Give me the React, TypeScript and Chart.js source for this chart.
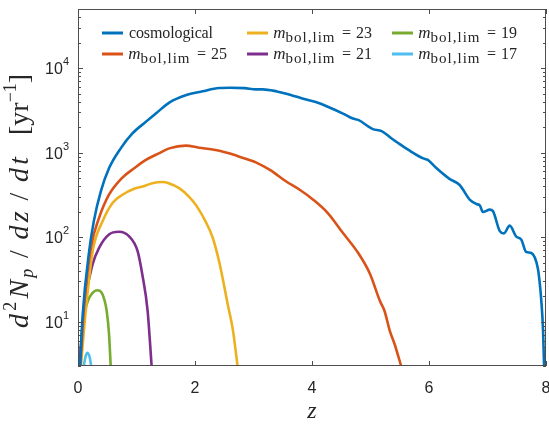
import React, { useEffect, useRef } from 'react';
import { Chart, registerables } from 'chart.js';
Chart.register(...registerables);

// ---- data ----
const cosmoZ = [0.03, 0.08, 0.19, 0.27, 0.39, 0.53, 0.73, 0.93, 1.16, 1.33, 1.56, 1.84, 2.13, 2.41, 2.6, 2.85, 3.04, 3.16, 3.4, 3.56, 3.9, 4.1, 4.25, 4.53, 4.7, 4.79, 5.04, 5.19, 5.36, 5.44, 5.67, 5.9, 5.98, 6.13, 6.35, 6.52, 6.7, 6.81, 6.87, 6.92, 7.04, 7.09, 7.21, 7.28, 7.38, 7.49, 7.58, 7.66, 7.75, 7.86, 7.89, 7.92, 7.95, 7.97];
const cosmoN = [2.5, 12, 68, 154, 348, 653, 1124, 1687, 2316, 2900, 3910, 4775, 5320, 5820, 5860, 5800, 5610, 5610, 5300, 4990, 4240, 3900, 3540, 2900, 2530, 2440, 1900, 1800, 1470, 1346, 1055, 857, 820, 653, 490, 417, 277, 247, 237, 199, 212, 205, 118, 111, 137, 102, 93, 67, 65, 43, 30, 17.7, 7.8, 2.5];

const m25Z = [0.04, 0.1, 0.22, 0.36, 0.53, 0.76, 0.96, 1.16, 1.38, 1.56, 1.84, 2.07, 2.35, 2.58, 2.81, 2.93, 3.04, 3.28, 3.56, 3.79, 4.02, 4.27, 4.53, 4.79, 4.99, 5.16, 5.24, 5.33, 5.41, 5.53];
const m25N = [3, 14, 75, 169, 318, 508, 653, 820, 981, 1124, 1210, 1145, 1076, 981, 873, 820, 769, 625, 456, 364, 278, 193, 112, 65, 37, 17.7, 13.4, 7.8, 5.5, 2.9];

const m23Z = [0.05, 0.12, 0.25, 0.42, 0.59, 0.76, 0.96, 1.12, 1.27, 1.45, 1.55, 1.73, 1.9, 2.02, 2.18, 2.3, 2.42, 2.56, 2.65, 2.73];
const m23N = [3, 11, 68, 154, 254, 318, 374, 400, 436, 450, 436, 380, 300, 238, 154, 100, 49, 16, 7.8, 2.9];

const m21Z = [0.02, 0.13, 0.25, 0.36, 0.53, 0.7, 0.87, 1.02, 1.1, 1.19, 1.26];
const m21N = [3, 19, 48, 75, 108, 116, 103, 68, 36, 13.5, 2.9];

const m19Z = [0.03, 0.075, 0.16, 0.25, 0.33, 0.42, 0.49, 0.53, 0.56];
const m19N = [3, 8.6, 17, 22, 23.6, 21, 13.5, 7.2, 2.9];

const m17Z = [0.09, 0.13, 0.16, 0.2, 0.23];
const m17N = [2.8, 3.9, 4.3, 3.8, 2.8];

const seriesNames = ['cosmological', '25', '23', '21', '19', '17'];
const xTickValues = [0, 2, 4, 6, 8];
const yMajorExps = [1, 2, 3, 4];
const X_MIN = 0, X_MAX = 8, Y_MIN = 3, Y_MAX = 5e4;

const COLORS = ['#0072BD', '#D95319', '#EDB120', '#7E2F8E', '#77AC30', '#4DBEEE'];
const AX = '#4d4d4d';
const TXT = '#262626';
const SERIF = '"Liberation Serif", "Times New Roman", serif';
const SANS = '"Liberation Sans", Arial, sans-serif';

const pts = (z: number[], n: number[]) => z.map((x, i) => ({ x, y: n[i] }));

// rich text piece: text, font, baseline shift, optional target width, gap weight after it
type Part = { t: string; f: string; dy?: number; w?: number; g?: number };
function partWidth(ctx: CanvasRenderingContext2D, p: Part) {
  if (p.w !== undefined) return p.w;
  ctx.font = p.f;
  return ctx.measureText(p.t).width;
}
function richWidth(ctx: CanvasRenderingContext2D, parts: Part[]) {
  return parts.reduce((s, p) => s + partWidth(ctx, p), 0);
}
function drawRich(ctx: CanvasRenderingContext2D, parts: Part[], x: number, y: number, unit = 0) {
  let cx = x;
  for (const p of parts) {
    ctx.font = p.f;
    const mw = ctx.measureText(p.t).width;
    const yy = y + (p.dy || 0);
    if (p.w !== undefined) {
      const chars = Array.from(p.t);
      const sp = (p.w - mw) / chars.length;
      let px = cx + sp / 2;
      for (const ch of chars) {
        ctx.fillText(ch, px, yy);
        px += ctx.measureText(ch).width + sp;
      }
      cx += p.w;
    } else {
      ctx.fillText(p.t, cx, yy);
      cx += mw;
    }
    cx += unit * (p.g || 0);
  }
}
function drawFit(ctx: CanvasRenderingContext2D, parts: Part[], x: number, y: number, target: number) {
  const nat = richWidth(ctx, parts);
  const wsum = parts.reduce((s, p) => s + (p.g || 0), 0);
  const unit = wsum > 0 ? Math.max(0, (target - nat) / wsum) : 0;
  drawRich(ctx, parts, x, y, unit);
}

const decor = {
  id: 'decor',
  afterDraw(chart: any) {
    const ctx: CanvasRenderingContext2D = chart.ctx;
    const { left, right, top, bottom } = chart.chartArea;
    const xs = chart.scales.x, ys = chart.scales.y;
    ctx.save();
    ctx.strokeStyle = AX;
    ctx.lineWidth = 1;
    ctx.strokeRect(Math.round(left) + 0.5, Math.round(top) + 0.5, Math.round(right - left) - 1, Math.round(bottom - top) - 1);
    ctx.beginPath();
    for (const v of xTickValues) {
      const px = Math.round(xs.getPixelForValue(v)) + 0.5;
      ctx.moveTo(px, bottom); ctx.lineTo(px, bottom - 5);
      ctx.moveTo(px, top); ctx.lineTo(px, top + 5);
    }
    for (let e = 0; e <= 4; e++) {
      for (let m = 1; m <= 9; m++) {
        const v = m * Math.pow(10, e);
        if (v < Y_MIN || v > Y_MAX) continue;
        const py = Math.round(ys.getPixelForValue(v)) + 0.5;
        const len = m === 1 ? 5 : 3;
        ctx.moveTo(left, py); ctx.lineTo(left + len, py);
        ctx.moveTo(right, py); ctx.lineTo(right - len, py);
      }
    }
    ctx.stroke();

    // tick labels
    ctx.fillStyle = TXT;
    ctx.textBaseline = 'alphabetic';
    ctx.textAlign = 'center';
    ctx.font = `16px ${SANS}`;
    for (const v of xTickValues) {
      ctx.fillText(String(v), xs.getPixelForValue(v), 392.5);
    }
    ctx.textAlign = 'left';
    for (const e of yMajorExps) {
      const py = ys.getPixelForValue(Math.pow(10, e));
      const parts: Part[] = [
        { t: '10', f: `16px ${SANS}` },
        { t: String(e), f: `11px ${SANS}`, dy: -9 },
      ];
      const w = richWidth(ctx, parts);
      drawRich(ctx, parts, 69 - w, py + 6);
    }

    // x title
    const zParts: Part[] = [{ t: 'z', f: `italic 24px ${SERIF}` }];
    const zw = richWidth(ctx, zParts);
    drawRich(ctx, zParts, (left + right) / 2 - zw / 2, 418);

    // y title (rotated): main part spans y 328..157, units part 135..85
    const fs = 28, ss = 18;
    const it = `italic ${fs}px ${SERIF}`;
    const rm = `${fs}px ${SERIF}`;
    const mainParts: Part[] = [
      { t: 'd', f: it, g: 0.3 },
      { t: '2', f: `${ss}px ${SERIF}`, dy: -12, g: 0.3 },
      { t: 'N', f: it, g: 0.2 },
      { t: 'p', f: `italic ${ss}px ${SERIF}`, dy: 5, g: 1 },
      { t: '/', f: rm, g: 1 },
      { t: 'd', f: it, g: 0.3 },
      { t: 'z', f: it, g: 1 },
      { t: '/', f: rm, g: 1 },
      { t: 'd', f: it, g: 0.3 },
      { t: 't', f: it },
    ];
    const unitParts: Part[] = [
      { t: '[', f: rm, g: 1 },
      { t: 'yr', f: rm, g: 0.5 },
      { t: '\u22121', f: `${ss}px ${SERIF}`, dy: -12, g: 1 },
      { t: ']', f: rm },
    ];
    ctx.save();
    ctx.translate(28, 328);
    ctx.rotate(-Math.PI / 2);
    drawFit(ctx, mainParts, 0, 0, 171);
    drawFit(ctx, unitParts, 193, 0, 50);
    ctx.restore();

    // legend (column-major, 3 columns x 2 rows)
    const colX = [102, 247, 392];
    const rowY = [33, 54];
    for (let i = 0; i < seriesNames.length; i++) {
      const c = Math.floor(i / 2), r = i % 2;
      const x0 = colX[c], y0 = rowY[r];
      ctx.strokeStyle = COLORS[i];
      ctx.lineWidth = 3;
      ctx.beginPath();
      ctx.moveTo(x0, y0); ctx.lineTo(x0 + 21, y0);
      ctx.stroke();
      ctx.fillStyle = TXT;
      let parts: Part[];
      if (i === 0) {
        parts = [{ t: seriesNames[i], f: `16px ${SERIF}`, w: 84 }];
      } else {
        parts = [
          { t: 'm', f: `italic 17px ${SERIF}`, w: 11 },
          { t: 'bol,lim', f: `15px ${SERIF}`, dy: 4, w: 50 },
          { t: ' ', f: `16px ${SERIF}`, w: 6 },
          { t: '=', f: `16px ${SERIF}`, w: 11 },
          { t: ' ', f: `16px ${SERIF}`, w: 4 },
          { t: seriesNames[i], f: `16px ${SERIF}`, w: 16 },
        ];
      }
      drawRich(ctx, parts, x0 + 27, y0 + 5);
    }
    ctx.restore();
  },
};

export default function App() {
  const ref = useRef<HTMLCanvasElement>(null);
  useEffect(() => {
    document.body.style.margin = '0';
    const canvas = ref.current!;
    const data = [pts(cosmoZ, cosmoN), pts(m25Z, m25N), pts(m23Z, m23N), pts(m21Z, m21N), pts(m19Z, m19N), pts(m17Z, m17N)];
    const chart = new Chart(canvas, {
      type: 'line',
      data: {
        datasets: data.map((d, i) => ({
          label: seriesNames[i],
          data: d,
          borderColor: COLORS[i],
          backgroundColor: COLORS[i],
          borderWidth: 2.6,
          pointRadius: 0,
          cubicInterpolationMode: 'monotone' as const,
          borderJoinStyle: 'round' as const,
          fill: false,
        })),
      },
      options: {
        animation: false,
        responsive: false,
        maintainAspectRatio: false,
        layout: { padding: { left: 0, right: 3, top: 9, bottom: 0 } },
        plugins: { legend: { display: false }, tooltip: { enabled: false } },
        scales: {
          x: {
            type: 'linear', min: X_MIN, max: X_MAX,
            grid: { display: false }, border: { display: false }, ticks: { display: false },
            afterFit: (s: any) => { s.height = 59; },
          },
          y: {
            type: 'logarithmic', min: Y_MIN, max: Y_MAX,
            grid: { display: false }, border: { display: false }, ticks: { display: false },
            afterFit: (s: any) => { s.width = 78; },
          },
        },
      },
      plugins: [decor],
    });
    return () => chart.destroy();
  }, []);
  return (
    <div style={{ width: 549, height: 425, background: '#fff' }}>
      <canvas ref={ref} width={549} height={425} style={{ display: 'block' }} />
    </div>
  );
}
